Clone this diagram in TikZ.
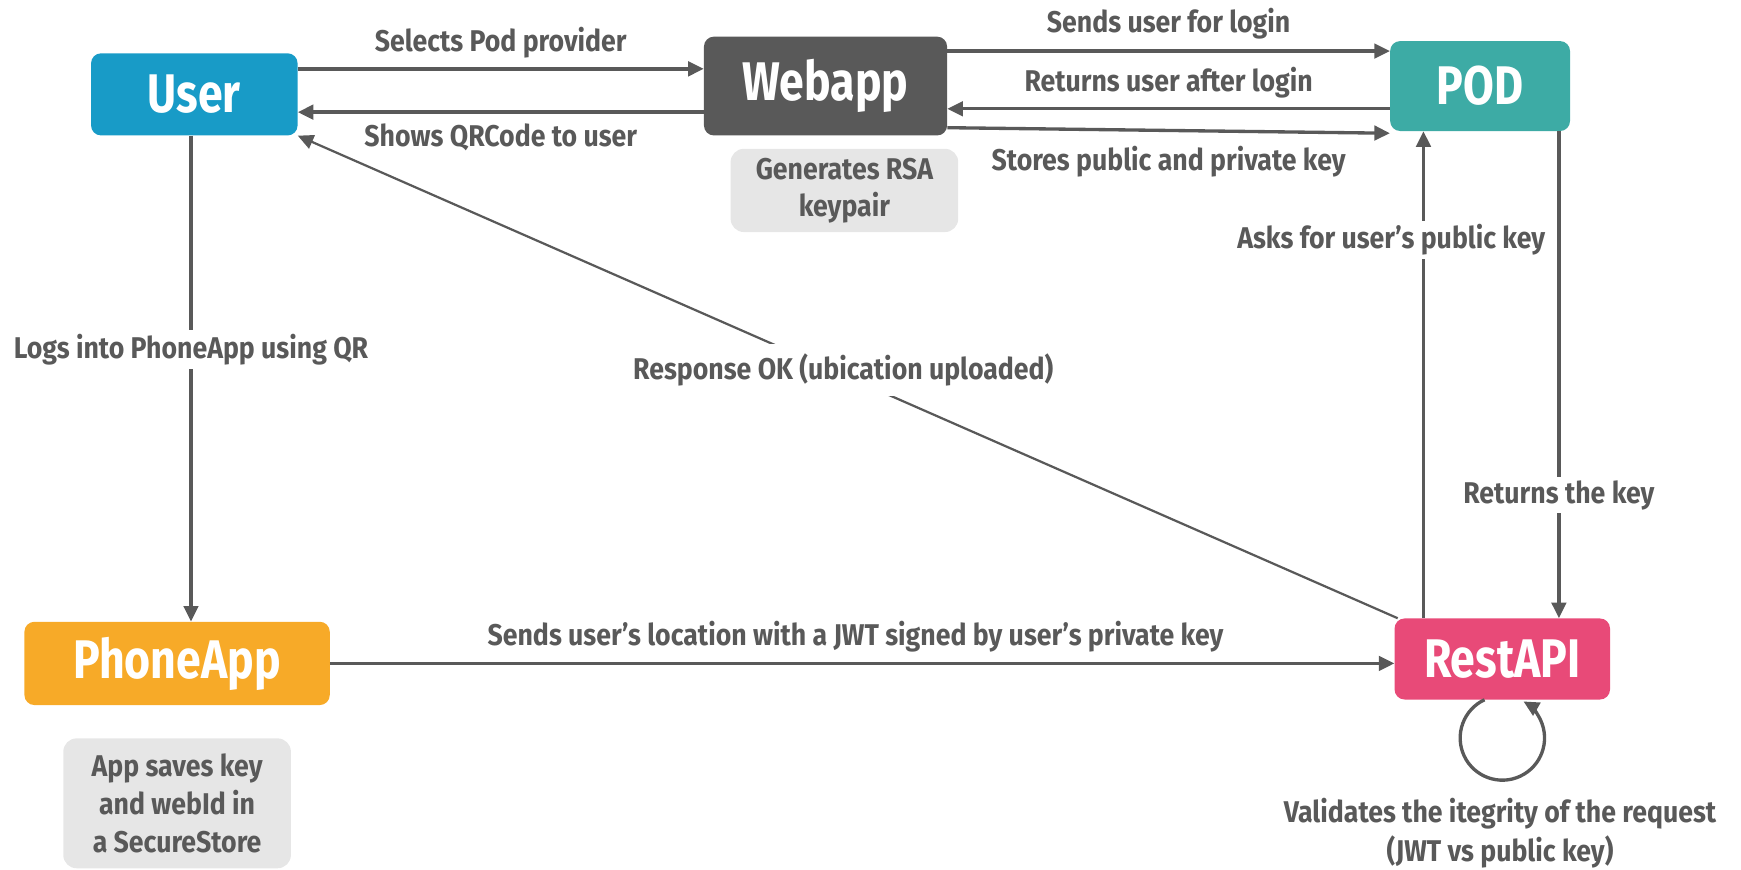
\documentclass[tikz,border=0pt]{standalone}
\usepackage{fontspec}
\setmainfont{Fira Sans}[FakeStretch=0.89]
\newfontfamily\boxfont{Fira Sans}[FakeStretch=0.82]
\usetikzlibrary{positioning,arrows.meta}

\definecolor{ink}{HTML}{595959}
\definecolor{userblue}{HTML}{189BC7}
\definecolor{podteal}{HTML}{3DABA5}
\definecolor{phoneorange}{HTML}{F7AA28}
\definecolor{restpink}{HTML}{E84A78}
\definecolor{notegray}{HTML}{E6E6E6}

\begin{document}
\begin{tikzpicture}[x=1pt,y=-1pt,
  box/.style={rounded corners=9pt, inner sep=0pt, text=white, font=\boxfont\fontsize{49}{56}\selectfont\bfseries},
  note/.style={rounded corners=12pt, fill=notegray, text=ink, align=center, inner sep=0pt, font=\fontsize{27}{33}\selectfont\bfseries},
  lbl/.style={text=ink, font=\fontsize{27}{30}\selectfont\bfseries},
  arr/.style={draw=ink, line width=3pt, -{Triangle[length=14pt,width=13pt]}}]
\useasboundingbox (0,0) rectangle (1568,783);

\node[box, fill=userblue, minimum width=186pt, minimum height=74pt] (user) at (175,85) {User};
\node[box, fill=ink, minimum width=219pt, minimum height=89pt] (webapp) at (743.5,77.5) {Webapp};
\node[box, fill=podteal, minimum width=162pt, minimum height=81pt] (pod) at (1333,77.5) {POD};
\node[box, fill=phoneorange, minimum width=275pt, minimum height=75pt] (phoneapp) at (159.5,597.5) {PhoneApp};
\node[box, fill=restpink, minimum width=194pt, minimum height=73pt] (restapi) at (1353,593.5) {RestAPI};
\node[note, minimum width=205pt, minimum height=75pt] (keygen) at (760.5,171.5) {Generates RSA\\keypair};
\node[note, font=\fontsize{27}{34.5}\selectfont\bfseries, minimum width=205pt, minimum height=117pt] (store) at (159.5,723.5) {App saves key\\and webId in\\a SecureStore};
\node[lbl, align=center, font=\fontsize{27}{35}\selectfont\bfseries] (validate) at (1351,750) {Validates the itegrity of the request\\(JWT vs public key)};

\draw[arr] ([yshift=23pt]user.east) -- ([yshift=23pt]user.east -| webapp.west)
  node[lbl, midway, above=5pt] {Selects Pod provider};
\draw[arr] ([yshift=-23.5pt]webapp.west) -- ([yshift=-23.5pt]webapp.west -| user.east)
  node[lbl, midway, below=6pt] {Shows QRCode to user};
\draw[arr] ([yshift=31.5pt]webapp.east) -- ([yshift=31.5pt]webapp.east -| pod.west)
  node[lbl, midway, above=6pt] {Sends user for login};
\draw[arr] ([yshift=-20.5pt]pod.west) -- ([yshift=-20.5pt]pod.west -| webapp.east)
  node[lbl, midway, above=5pt] {Returns user after login};
\draw[arr] ([yshift=-37.5pt]webapp.east) -- ([yshift=-42.5pt]pod.west)
  node[lbl, midway, below=9pt] {Stores public and private key};
\draw[arr] ([xshift=-3pt]user.south) -- ([xshift=-3pt]user.south |- phoneapp.north)
  node[lbl, pos=0.44, fill=white] {Logs into PhoneApp using QR};
\draw[arr] (phoneapp.east) -- (phoneapp.east -| restapi.west)
  node[lbl, midway, above=5pt, xshift=-6pt] {Sends user’s location with a JWT signed by user’s private key};
\draw[arr, line width=2pt] ([xshift=3pt]restapi.north west) -- (user.south east)
  node[lbl, pos=0.5, yshift=6pt, xshift=-4pt, fill=white, inner sep=9pt] {Response OK (ubication uploaded)};
\draw[arr] ([xshift=-71pt]restapi.north) -- ([xshift=-71pt]restapi.north |- pod.south)
  node[lbl, pos=0.777, xshift=-29pt, fill=white] {Asks for user’s public key};
\draw[arr] ([xshift=71pt]pod.south) -- ([xshift=71pt]pod.south |- restapi.north)
  node[lbl, pos=0.747, fill=white] {Returns the key};
\draw[arr] ([xshift=-16pt]restapi.south) arc[start angle=-115, end angle=-420, radius=38];

\end{tikzpicture}
\end{document}
